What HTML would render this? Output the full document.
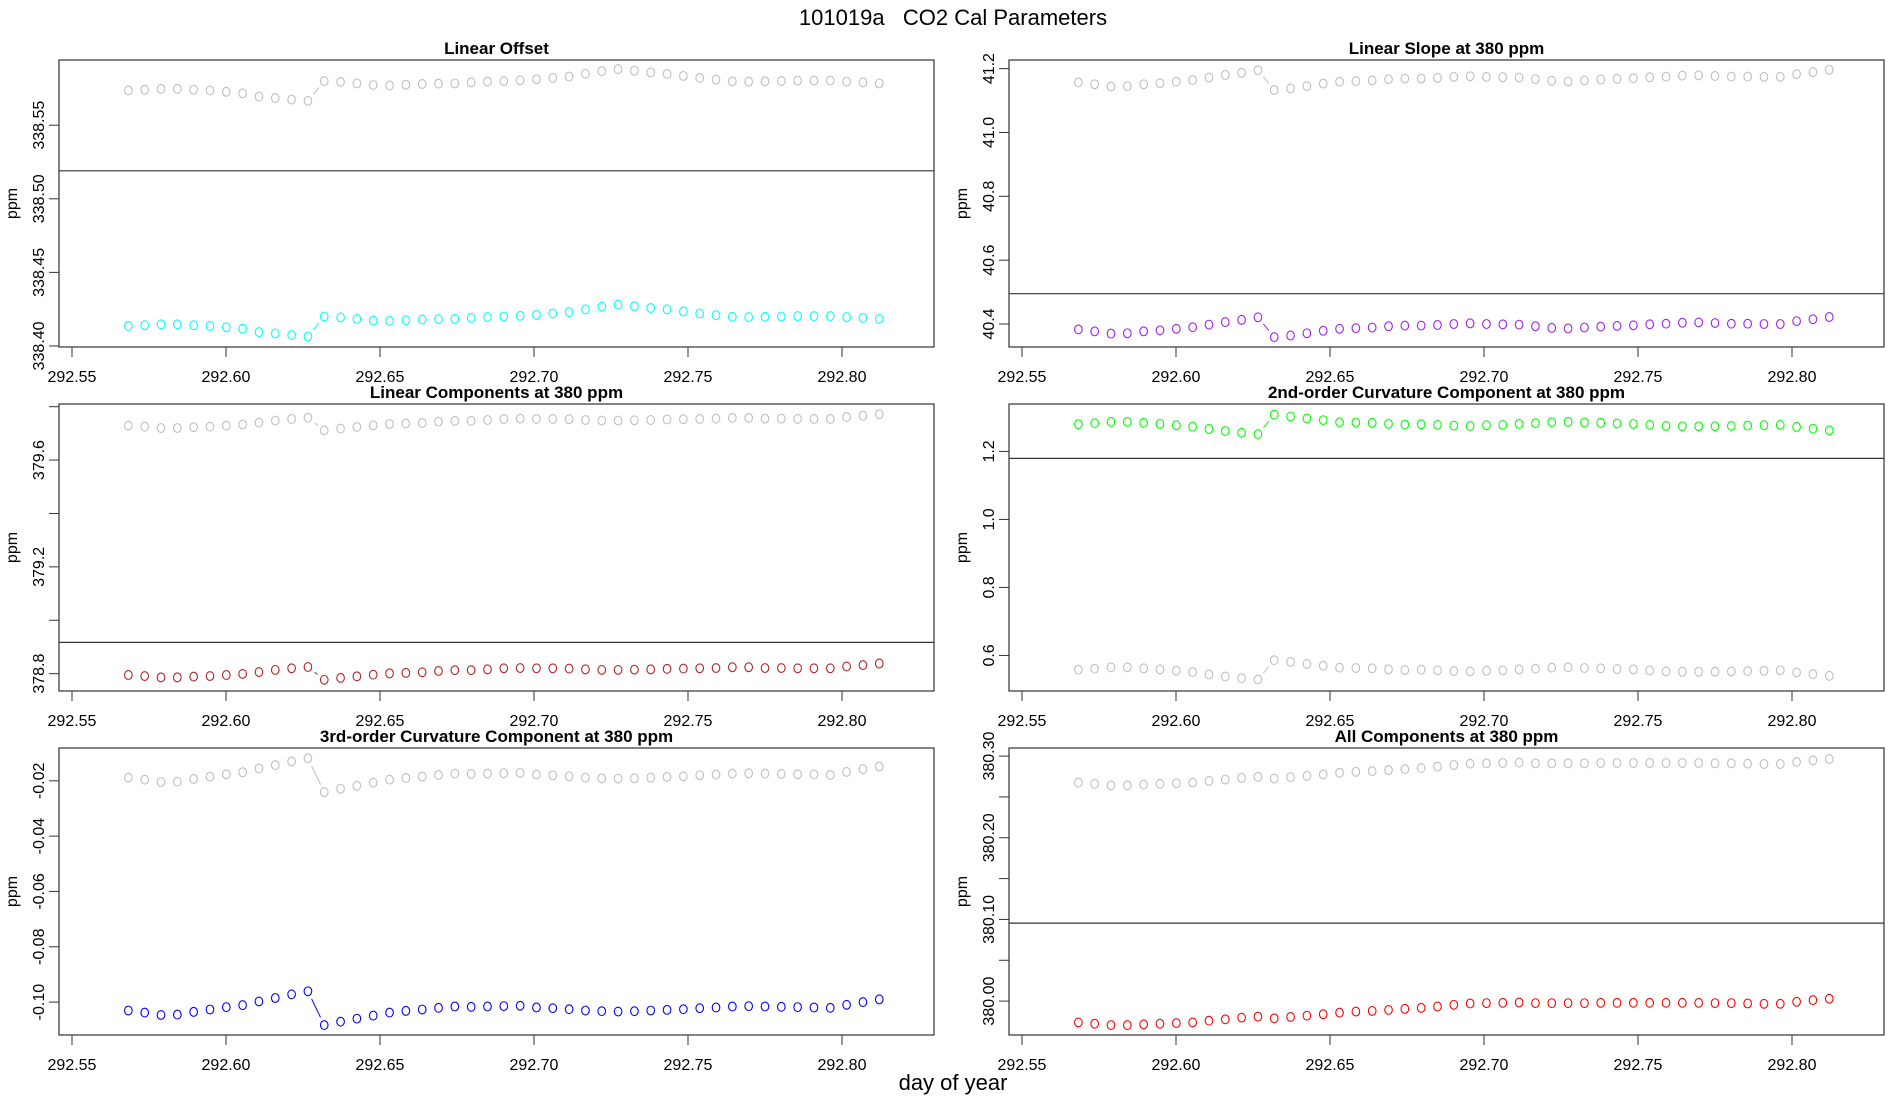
<!DOCTYPE html>
<html><head><meta charset="utf-8"><style>
html,body{margin:0;padding:0;background:#fff;}
svg{display:block;font-family:"Liberation Sans",sans-serif;}
</style></head><body>
<svg id="chart" width="1900" height="1100" viewBox="0 0 1900 1100" xmlns="http://www.w3.org/2000/svg">
<text x="953" y="25" font-size="22" text-anchor="middle" style="white-space:pre" xml:space="preserve">101019a   CO2 Cal Parameters</text>
<text x="953" y="1090" font-size="22" text-anchor="middle">day of year</text>
<g id="panels"></g>
</svg>
<script>
const times = [292.5683,292.5736,292.5789,292.5842,292.5895,292.5948,292.6001,292.6054,292.6107,292.6160,292.6213,292.6266,292.6319,292.6372,292.6425,292.6478,292.6531,292.6584,292.6637,292.6690,292.6743,292.6796,292.6849,292.6902,292.6955,292.7008,292.7061,292.7114,292.7167,292.7220,292.7273,292.7326,292.7379,292.7432,292.7485,292.7538,292.7591,292.7644,292.7697,292.7750,292.7803,292.7856,292.7909,292.7962,292.8015,292.8068,292.8121];
const xTicks = [292.55,292.60,292.65,292.70,292.75,292.80];
const xTickLabels = ["292.55","292.60","292.65","292.70","292.75","292.80"];

const offsetValues = [338.4136,338.4141,338.4147,338.4147,338.4141,338.4136,338.4127,338.4117,338.4094,338.4085,338.4074,338.4065,
338.4200,338.4194,338.4184,338.4173,338.4170,338.4175,338.4180,338.4182,338.4184,338.4191,338.4196,338.4200,338.4205,338.4212,338.4221,338.4230,338.4249,338.4267,338.4281,338.4270,338.4258,338.4249,338.4235,338.4221,338.4210,338.4198,338.4196,338.4198,338.4200,338.4203,338.4203,338.4203,338.4196,338.4191,338.4184];
const offsetGrayShift = 0.160;
const offsetRef = 338.519;

const slopeValues = [40.383,40.377,40.370,40.371,40.377,40.380,40.385,40.390,40.398,40.406,40.413,40.421,
40.359,40.364,40.371,40.379,40.385,40.387,40.389,40.393,40.395,40.395,40.397,40.400,40.402,40.400,40.399,40.398,40.393,40.388,40.386,40.389,40.392,40.394,40.396,40.399,40.401,40.404,40.405,40.403,40.401,40.401,40.400,40.400,40.409,40.415,40.422];
const slopeGrayShift = 0.774;
const slopeRef = 40.495;

const linCompValues = [378.795,378.791,378.786,378.786,378.789,378.791,378.795,378.799,378.806,378.814,378.820,378.825,
378.777,378.784,378.790,378.796,378.801,378.803,378.805,378.810,378.813,378.813,378.816,378.820,378.821,378.820,378.820,378.819,378.816,378.814,378.814,378.815,378.816,378.818,378.819,378.820,378.821,378.824,378.824,378.821,378.821,378.820,378.820,378.820,378.827,378.832,378.838];
const linCompGrayShift = 0.934;
const linCompRef = 378.917;

const curv2Values = [1.280,1.283,1.287,1.287,1.284,1.281,1.277,1.273,1.266,1.260,1.255,1.251,
1.308,1.303,1.297,1.292,1.286,1.285,1.284,1.281,1.279,1.280,1.278,1.276,1.275,1.277,1.278,1.281,1.283,1.286,1.287,1.285,1.284,1.282,1.281,1.278,1.275,1.274,1.274,1.274,1.275,1.276,1.277,1.278,1.272,1.267,1.262];
const curv2GrayShift = -0.722;
const curv2Ref = 1.1795;

const curv3Values = [-0.10305,-0.10379,-0.10464,-0.10452,-0.10354,-0.10269,-0.10183,-0.10110,-0.09976,-0.09853,-0.09719,-0.09609,
-0.10831,-0.10708,-0.10599,-0.10489,-0.10379,-0.10318,-0.10269,-0.10208,-0.10159,-0.10171,-0.10159,-0.10147,-0.10134,-0.10195,-0.10220,-0.10257,-0.10305,-0.10330,-0.10342,-0.10330,-0.10305,-0.10281,-0.10257,-0.10220,-0.10195,-0.10159,-0.10147,-0.10159,-0.10171,-0.10183,-0.10195,-0.10208,-0.10098,-0.10000,-0.09902];
const curv3GrayShift = 0.0842;
const curv3Ref = null;

const allValues = [379.9739,379.9723,379.9706,379.9706,379.9715,379.9723,379.9731,379.9739,379.9760,379.9777,379.9797,379.9810,
379.9789,379.9806,379.9822,379.9839,379.9859,379.9872,379.9880,379.9892,379.9905,379.9917,379.9934,379.9955,379.9971,379.9975,379.9979,379.9983,379.9975,379.9975,379.9975,379.9975,379.9979,379.9979,379.9979,379.9979,379.9979,379.9979,379.9979,379.9975,379.9975,379.9971,379.9967,379.9967,379.9992,380.0012,380.0029];
const allGrayShift = 0.2936;
const allRef = 380.0955;

const panels = [
 {name:'linear-offset', title:'Linear Offset', vals:offsetValues, shift:offsetGrayShift, ref:offsetRef, color:'#00ffff',
  x0:59,y0:60,ylo:338.3993,yhi:338.5943, ticks:[338.40,338.45,338.50,338.55], labels:['338.40','338.45','338.50','338.55']},
 {name:'linear-slope', title:'Linear Slope at 380 ppm', vals:slopeValues, shift:slopeGrayShift, ref:slopeRef, color:'#a020f0',
  x0:1009,y0:60,ylo:40.328,yhi:41.227, ticks:[40.4,40.6,40.8,41.0,41.2], labels:['40.4','40.6','40.8','41.0','41.2']},
 {name:'linear-components', title:'Linear Components at 380 ppm', vals:linCompValues, shift:linCompGrayShift, ref:linCompRef, color:'#b22222',
  x0:59,y0:404,ylo:378.735,yhi:379.810, ticks:[378.8,379.0,379.2,379.4,379.6,379.8], labels:['378.8','','379.2','','379.6','']},
 {name:'curvature-2nd', title:'2nd-order Curvature Component at 380 ppm', vals:curv2Values, shift:curv2GrayShift, ref:curv2Ref, color:'#00ff00',
  x0:1009,y0:404,ylo:0.4954,yhi:1.3395, ticks:[0.6,0.8,1.0,1.2], labels:['0.6','0.8','1.0','1.2']},
 {name:'curvature-3rd', title:'3rd-order Curvature Component at 380 ppm', vals:curv3Values, shift:curv3GrayShift, ref:curv3Ref, color:'#0000ff',
  x0:59,y0:748,ylo:-0.1119,yhi:-0.00814, ticks:[-0.10,-0.08,-0.06,-0.04,-0.02], labels:['-0.10','-0.08','-0.06','-0.04','-0.02']},
 {name:'all-components', title:'All Components at 380 ppm', vals:allValues, shift:allGrayShift, ref:allRef, color:'#ff0000',
  x0:1009,y0:748,ylo:379.9585,yhi:380.3099, ticks:[380.00,380.05,380.10,380.15,380.20,380.25,380.30], labels:['380.00','','380.10','','380.20','','380.30']}
];
const W=875,H=287,XLO=292.54578,XHI=292.82987;
const NS='http://www.w3.org/2000/svg';
const root=document.getElementById('panels');
function mk(tag,attrs,parent){const e=document.createElementNS(NS,tag);for(const k in attrs)e.setAttribute(k,attrs[k]);parent.appendChild(e);return e;}

panels.forEach(p=>{
  const g=mk('g',{},root);
  
  
  const xs=v=>p.x0+(v-XLO)/(XHI-XLO)*W;
  const ys=v=>p.y0+H-(v-p.ylo)/(p.yhi-p.ylo)*H;
  const t=mk('text',{x:p.x0+W/2,y:p.y0-6,'font-size':17,'font-weight':'bold','text-anchor':'middle'},g);
  t.textContent=p.title;
  
  
  const box=mk('rect',{x:p.x0,y:p.y0,width:W,height:H,fill:'none',stroke:'#333','stroke-width':1.2},g);
  
  
  const xb=p.y0+H;
  xTicks.forEach((v,i)=>{
    const tk=mk('line',{x1:xs(v),x2:xs(v),y1:xb,y2:xb+10,stroke:'#333'},g);
    
    
    const l=mk('text',{x:xs(v),y:xb+35,'font-size':16,'text-anchor':'middle'},g);
    l.textContent=xTickLabels[i];
    
    
  });
  p.ticks.forEach((v,i)=>{
    const y=ys(v);
    const tk=mk('line',{x1:p.x0-10,x2:p.x0,y1:y,y2:y,stroke:'#333'},g);
    
    
    if(p.labels[i]){
      const l=mk('text',{x:0,y:0,'font-size':16,'text-anchor':'middle',transform:`translate(${p.x0-15},${y}) rotate(-90)`},g);
      l.textContent=p.labels[i];
      
      
    }
  });
  const yl=mk('text',{x:0,y:0,'font-size':16,'text-anchor':'middle',transform:`translate(${p.x0-42},${p.y0+H/2}) rotate(-90)`},g);
  yl.textContent='ppm';
  
  
  if(p.ref!==null){
    const hl=mk('line',{x1:p.x0,x2:p.x0+W,y1:ys(p.ref),y2:ys(p.ref),stroke:'#333','stroke-width':1.2},g);
    
    
  }
  const series=[{c:'#bebebe',d:p.vals.map(v=>v+p.shift),n:'gray-series'},{c:p.color,d:p.vals,n:'colored-series'}];
  series.forEach(s=>{
    for(let i=0;i<s.d.length-1;i++){
      const ax=xs(times[i]),ay=ys(s.d[i]),bx=xs(times[i+1]),by=ys(s.d[i+1]);
      const dx=bx-ax,dy=by-ay,len=Math.hypot(dx,dy),gap=8.5;
      if(len>2*gap+2){
        const ux=dx/len,uy=dy/len;
        const sl=mk('line',{x1:ax+ux*gap,y1:ay+uy*gap,x2:bx-ux*gap,y2:by-uy*gap,stroke:s.c,'stroke-width':1},g);
        
        
      }
    }
    s.d.forEach((v,i)=>{
      const c=mk('ellipse',{cx:xs(times[i]),cy:ys(v),rx:3.8,ry:4.4,fill:'none',stroke:s.c,'stroke-width':1.1},g);
      
      
    });
  });
});
</script>
</body></html>
